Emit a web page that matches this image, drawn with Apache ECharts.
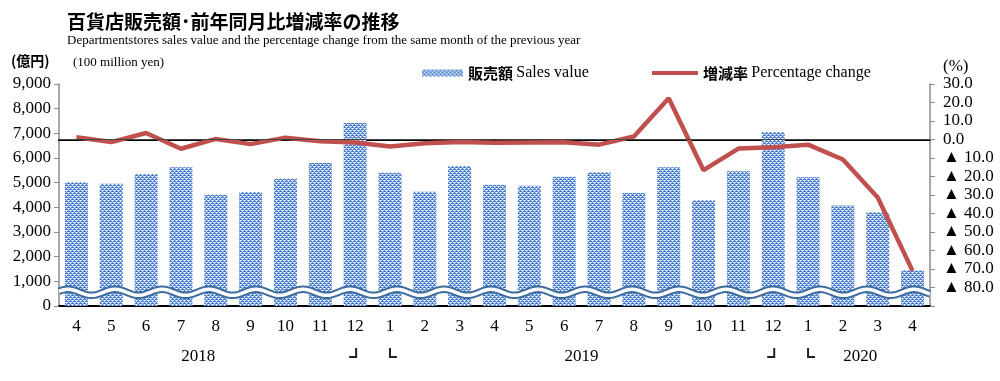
<!DOCTYPE html>
<html>
<head>
<meta charset="utf-8">
<script src="https://cdn.jsdelivr.net/npm/echarts@6/dist/echarts.min.js"></script>
<style>
html,body{margin:0;padding:0;background:#fff;}
#chart{width:1000px;height:381px;}
</style>
</head>
<body>
<div id="chart"></div>
<script>
// ---- data ----
const months = ['4','5','6','7','8','9','10','11','12','1','2','3','4','5','6','7','8','9','10','11','12','1','2','3','4'];
const years = [
  {label:'2018', from:0, to:7},
  {label:'2019', from:9, to:20},
  {label:'2020', from:21, to:24}
];
const yearBreaks = [8, 20]; // index of December before a new year
const sales = [5020, 4960, 5350, 5630, 4515, 4620, 5160, 5800, 7420, 5400, 4630, 5680, 4920, 4880, 5240, 5420, 4580, 5630, 4285, 5460, 7050, 5215, 4070, 3800, 1445];
const pct = [1.2, -1.4, 3.5, -5.0, 0.3, -2.5, 1.0, -1.0, -1.6, -3.8, -2.0, -1.3, -1.7, -1.6, -1.5, -2.8, 1.6, 22.3, -16.6, -4.9, -4.2, -2.8, -10.8, -31.4, -71.0];
const leftTicks = {min:0, max:9000, interval:1000};
const rightTicks = {min:-90, max:30, interval:10};
const WAVE_LEVEL = 555;

// ---- bar pattern ----
function makePattern(){
  const c = document.createElement('canvas');
  c.width = 4; c.height = 4;
  const g = c.getContext('2d');
  g.fillStyle = '#4a7dcc'; g.fillRect(0,0,4,4);
  g.fillStyle = '#c3d6f3';
  [[1,0],[3,2],[0,1],[2,3],[1,2],[3,0]].forEach(p=>g.fillRect(p[0],p[1],1,1));
  g.fillStyle = '#ffffff';
  [[0,0],[2,2]].forEach(p=>g.fillRect(p[0],p[1],1,1));
  return c;
}
const pattern = {image: makePattern(), repeat: 'repeat'};

const serif = 'Liberation Serif';
const cjk = 'Noto Sans CJK JP';

const chart = echarts.init(document.getElementById('chart'), null, {renderer:'canvas'});

const option = {
  animation: false,
  backgroundColor: '#fff',
  grid: {left:59, right:70, top:84, bottom:75, containLabel:false},
  legend: [
    {
      data:[{name:'販売額', icon:'rect'}],
      left: 417, top: 60, itemWidth: 41, itemHeight: 7, itemGap: 5,
      selectedMode:false,
      formatter: () => '{a|販売額} {b|Sales value}',
      textStyle: {rich:{a:{fontFamily:cjk, fontWeight:'bold', fontSize:15, color:'#000'}, b:{fontFamily:serif, fontSize:16, color:'#000'}}}
    },
    {
      data:[{name:'増減率', icon:'rect'}],
      left: 647, top: 60, itemWidth: 46, itemHeight: 4, itemGap: 3,
      selectedMode:false,
      formatter: () => '{a|増減率} {b|Percentage change}',
      textStyle: {rich:{a:{fontFamily:cjk, fontWeight:'bold', fontSize:15, color:'#000'}, b:{fontFamily:serif, fontSize:16, color:'#000'}}}
    }
  ],
  xAxis: [
    {type:'category', data: months, position:'bottom',
     axisLine:{lineStyle:{color:'#000', width:2}}, axisTick:{show:false},
     axisLabel:{interval:0, fontFamily:serif, fontSize:17, color:'#000', margin:12}},
    {type:'category', data: months, position:'top',
     axisLine:{lineStyle:{color:'#000', width:2}}, axisTick:{show:false}, axisLabel:{show:false}}
  ],
  yAxis: [
    {type:'value', min:leftTicks.min, max:leftTicks.max, interval:leftTicks.interval,
     axisLine:{show:true, lineStyle:{color:'#8c8c8c', width:1.5}},
     axisTick:{show:true, length:5, lineStyle:{color:'#8c8c8c'}},
     splitLine:{show:false},
     axisLabel:{margin:8, fontFamily:serif, fontSize:17, color:'#000',
       formatter: v => v.toLocaleString('en-US')}},
    {type:'value', position:'right', min:rightTicks.min, max:rightTicks.max, interval:rightTicks.interval,
     axisLine:{show:true, lineStyle:{color:'#8c8c8c', width:1.5}},
     axisTick:{show:true, length:5, lineStyle:{color:'#8c8c8c'}},
     splitLine:{show:false},
     axisLabel:{margin:13, fontFamily:serif, fontSize:17, color:'#000',
       formatter: v => v === rightTicks.min ? '' : (v < 0 ? '▲ ' + Math.abs(v).toFixed(1) : v.toFixed(1))}}
  ],
  series: [
    {name:'販売額', type:'bar', data: sales, xAxisIndex:0, yAxisIndex:0, z:2,
     barCategoryGap:'34%', itemStyle:{color: pattern}},
    {type:'custom', xAxisIndex:0, yAxisIndex:0, z:3, silent:true, data:[[0, WAVE_LEVEL]],
     renderItem: function(params, api){
       const cs = params.coordSys;
       const yc = api.coord([0, WAVE_LEVEL])[1];
       const pts = [];
       const P = 47, A = 3, x0 = 68;
       for (let x = cs.x; x <= cs.x + cs.width; x += 1){
         pts.push([x, yc - A*Math.cos(2*Math.PI*(x - x0)/P)]);
       }
       return {type:'group', children:[
         {type:'polyline', shape:{points:pts}, style:{stroke:'#3f6c9f', lineWidth:7.5, fill:null}},
         {type:'polyline', shape:{points:pts}, style:{stroke:'#ffffff', lineWidth:3.5, fill:null}}
       ]};
     }},
    {name:'増減率', type:'line', data: pct, xAxisIndex:0, yAxisIndex:1, z:4,
     symbol:'none', lineStyle:{color:'#c0504d', width:4.5}, itemStyle:{color:'#c0504d'},
     markLine:{silent:true, symbol:'none', label:{show:false},
       lineStyle:{color:'#444', width:1, type:'solid'},
       data:[{yAxis:0}]}}
  ],
  graphic: [
    {id:'title', type:'text', left:67, top:12, style:{text:'百貨店販売額･前年同月比増減率の推移', fontFamily:cjk, fontWeight:'bold', fontSize:19, fill:'#000'}},
    {id:'sub', type:'text', left:67, top:34, style:{text:'Departmentstores sales value and the percentage change from the same month of the previous year', fontFamily:serif, fontSize:13, fill:'#000'}},
    {id:'unitL', type:'text', left:11, top:54, style:{text:'(億円)', fontFamily:cjk, fontWeight:'bold', fontSize:14, fill:'#000'}},
    {id:'unitL2', type:'text', left:73, top:56, style:{text:'(100 million yen)', fontFamily:serif, fontSize:13, fill:'#000'}},
    {id:'unitR', type:'text', left:943, top:58, style:{text:'(%)', fontFamily:serif, fontSize:17, fill:'#000'}}
  ]
};
chart.setOption(option);

// year labels and year separators, positioned from the category axis
const px = i => chart.convertToPixel({xAxisIndex:0}, i);
const extra = [];
years.forEach((y, k) => {
  const x = (px(y.from) + px(y.to)) / 2;
  extra.push({id:'yr'+k, type:'text', x: x, y: 357,
    style:{text:y.label, fontFamily:serif, fontSize:17, fill:'#000', align:'center', verticalAlign:'middle'}});
});
yearBreaks.forEach((i, k) => {
  const xa = px(i), xb = px(i+1);
  extra.push({id:'brA'+k, type:'polyline', shape:{points:[[xa+1,348],[xa+1,357],[xa-6,357]]}, style:{stroke:'#222', lineWidth:2, fill:null}});
  extra.push({id:'brB'+k, type:'polyline', shape:{points:[[xb,348],[xb,357],[xb+7,357]]}, style:{stroke:'#222', lineWidth:2, fill:null}});
});
chart.setOption({graphic: extra});
</script>
</body>
</html>
